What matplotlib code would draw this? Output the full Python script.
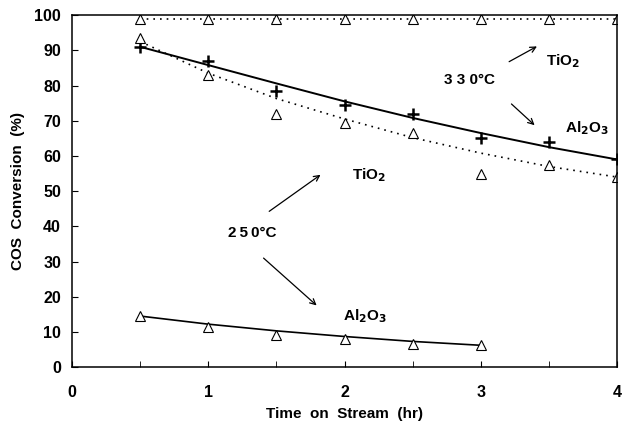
import numpy as np
import matplotlib
matplotlib.use("Agg")
import matplotlib.pyplot as plt

plt.rcParams['font.family'] = ['Liberation Sans', 'DejaVu Sans']

# Datos
t = [0.5, 1.0, 1.5, 2.0, 2.5, 3.0, 3.5, 4.0]
tio2_330 = [99, 99, 99, 99, 99, 99, 99, 99]
al2o3_330 = [91, 87, 78.5, 74.5, 72, 65, 64, 59]
al2o3_330_fit = [91, 85.8, 80.6, 75.5, 70.8, 66.5, 62.5, 59]
tio2_250 = [93.5, 83, 72, 69.5, 66.5, 55, 57.5, 54]
tio2_250_fit = [92.5, 83.5, 76.3, 70.5, 65.2, 60.8, 57, 54]
t_al = [0.5, 1.0, 1.5, 2.0, 2.5, 3.0]
al2o3_250 = [14.5, 11.5, 9, 8, 6.5, 6.2]
al2o3_250_fit = [14.5, 12.2, 10.3, 8.7, 7.3, 6.2]

fig = plt.figure(figsize=(6.22, 4.21), dpi=100)
ax = fig.add_axes([0.116, 0.128, 0.876, 0.836])

tri = dict(marker='^', ms=7.5, mfc='white', mec='black', mew=0.8, ls='none')

# 330 C TiO2
ax.plot([t[0], t[-1]], [tio2_330[0], tio2_330[-1]], ls=(0, (1, 3)), color='black', lw=1.2)
ax.plot(t, tio2_330, **tri)
# 330 C Al2O3
ax.plot(t, al2o3_330_fit, color='black', lw=1.4)
ax.plot(t, al2o3_330, marker='+', ms=8, mew=1.8, color='black', ls='none')
# 250 C TiO2
ax.plot(t, tio2_250_fit, ls=(0, (1, 3)), color='black', lw=1.2)
ax.plot(t, tio2_250, **tri)
# 250 C Al2O3
ax.plot(t_al, al2o3_250_fit, color='black', lw=1.2)
ax.plot(t_al, al2o3_250, **tri)

txt = dict(fontsize=11, fontweight='bold', ha='center', va='center')
ax.text(3.6, 87, 'TiO$_\\mathbf{2}$', **txt)
ax.text(2.92, 81.5, '3 3 0°C', **txt)
ax.text(3.78, 68, 'Al$_\\mathbf{2}$O$_\\mathbf{3}$', **txt)
ax.text(2.18, 54.5, 'TiO$_\\mathbf{2}$', **txt)
ax.text(1.32, 38, '2\u20095\u20090°C', **txt)
ax.text(2.15, 14.5, 'Al$_\\mathbf{2}$O$_\\mathbf{3}$', **txt)

arr = dict(arrowstyle='->', color='black', lw=0.9)
ax.annotate('', xy=(3.43, 91.5), xytext=(3.19, 86.4), arrowprops=arr)
ax.annotate('', xy=(3.41, 68.2), xytext=(3.21, 75.3), arrowprops=arr)
ax.annotate('', xy=(1.84, 55.1), xytext=(1.43, 43.8), arrowprops=arr)
ax.annotate('', xy=(1.81, 17), xytext=(1.39, 31.5), arrowprops=arr)

ax.set_xlim(0, 4)
ax.set_ylim(0, 100)
ax.set_xticks([0, 1, 2, 3, 4])
ax.set_xticks(np.arange(0.5, 4, 1.0), minor=True)
ax.set_yticks(np.arange(0, 101, 10))
ax.tick_params(direction='in', labelsize=11.5, length=4)
ax.tick_params(axis='x', pad=13)
ax.tick_params(axis='y', pad=8)
ax.tick_params(which='minor', direction='in', length=4)
for lab in ax.get_xticklabels() + ax.get_yticklabels():
    lab.set_fontweight('bold')
ax.set_xlabel('Time  on  Stream  (hr)', fontsize=11, fontweight='bold', labelpad=5)
ax.set_ylabel('COS  Conversion  (%)', fontsize=11, fontweight='bold', labelpad=7)
for s in ax.spines.values():
    s.set_linewidth(1.1)

fig.savefig('out.png', dpi=100)
